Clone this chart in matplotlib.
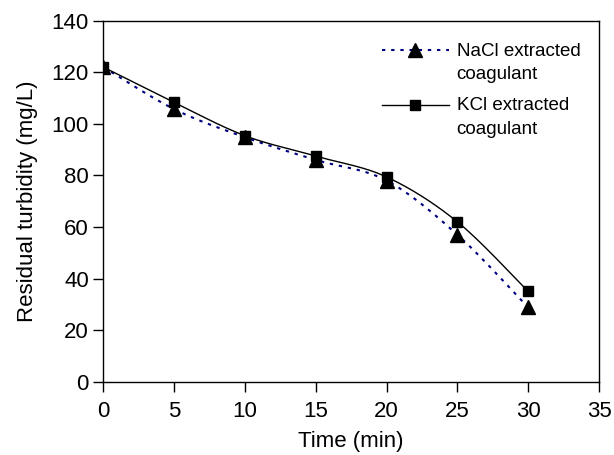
import numpy as np
import matplotlib
matplotlib.use("Agg")
import matplotlib.pyplot as plt

plt.rcParams['font.family'] = ['Liberation Sans', 'DejaVu Sans']

# Residual turbidity over settling time for the two extracted coagulants
time_min = [0, 5, 10, 15, 20, 25, 30]
nacl_turbidity = [122, 105.7, 94.8, 86, 78, 57, 28.8]
kcl_turbidity = [122, 108.3, 95.4, 87.5, 79.4, 62, 35]

x_ticks = [0, 5, 10, 15, 20, 25, 30, 35]
y_ticks = [0, 20, 40, 60, 80, 100, 120, 140]


def smooth(xs, ys, n=30):
    # Catmull-Rom style bezier smoothing between the measured points
    xs = np.asarray(xs, float)
    ys = np.asarray(ys, float)
    px = np.concatenate([[xs[0]], xs, [xs[-1]]])
    py = np.concatenate([[ys[0]], ys, [ys[-1]]])
    out_x, out_y = [], []
    t = np.linspace(0, 1, n)
    for i in range(1, len(px) - 2):
        p0 = np.array([px[i], py[i]])
        p3 = np.array([px[i + 1], py[i + 1]])
        c1 = p0 + (np.array([px[i + 1], py[i + 1]]) - np.array([px[i - 1], py[i - 1]])) / 6
        c2 = p3 - (np.array([px[i + 2], py[i + 2]]) - np.array([px[i], py[i]])) / 6
        b = ((1 - t) ** 3)[:, None] * p0 + (3 * (1 - t) ** 2 * t)[:, None] * c1 \
            + (3 * (1 - t) * t ** 2)[:, None] * c2 + (t ** 3)[:, None] * p3
        out_x.extend(b[:, 0])
        out_y.extend(b[:, 1])
    return out_x, out_y


fig = plt.figure(figsize=(6.14, 4.55), dpi=100)
ax = fig.add_axes([0.1683, 0.161, 0.8073, 0.7935])

sx, sy = smooth(time_min, nacl_turbidity)
ax.plot(sx, sy, color='#000080', linewidth=1.5, linestyle=(0, (1.6, 2.8)))
ax.plot(time_min, nacl_turbidity, linestyle='none', marker='^', markersize=9.5,
        color='black')
sx, sy = smooth(time_min, kcl_turbidity)
ax.plot(sx, sy, color='black', linewidth=1.0)
ax.plot(time_min, kcl_turbidity, linestyle='none', marker='s', markersize=7.3,
        color='black')

# legend handles: line with marker in the middle
h1, = ax.plot([], [], color='#000080', linewidth=1.5, linestyle=(0, (1.6, 2.8)),
              marker='^', markersize=9.5, markerfacecolor='black', markeredgecolor='black')
h2, = ax.plot([], [], color='black', linewidth=1.0, marker='s', markersize=7.3)
leg = ax.legend([h1, h2], ['NaCl extracted\ncoagulant', 'KCl extracted\ncoagulant'],
                loc='upper left', bbox_to_anchor=(0.535, 0.975), frameon=False,
                fontsize=13.5, handlelength=3.6, handleheight=1.0,
                handletextpad=0.4, labelspacing=0.75, borderpad=0.2)
for t in leg.get_texts():
    t.set_linespacing(1.5)
# put the handle next to the first line of each two-line label
for col in leg._legend_handle_box.get_children():
    for row in col.get_children():
        row.align = 'top'

ax.set_xlim(0, 35)
ax.set_ylim(0, 140)
ax.set_xticks(x_ticks)
ax.set_yticks(y_ticks)
ax.tick_params(direction='out', length=7, width=1, labelsize=16)
ax.tick_params(axis='x', pad=7)
for s in ax.spines.values():
    s.set_linewidth(1)

ax.set_xlabel('Time (min)', fontsize=16, labelpad=6)
ax.set_ylabel('Residual turbidity (mg/L)', fontsize=16, labelpad=10)

fig.savefig('out.png', dpi=100)
